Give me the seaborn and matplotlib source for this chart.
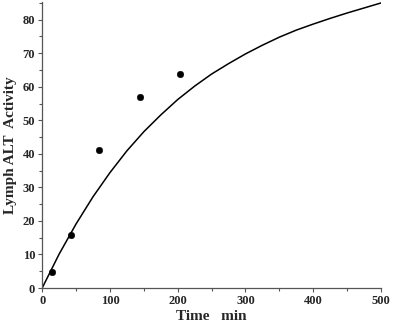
import matplotlib.pyplot as plt
import seaborn as sns
import pandas as pd
from matplotlib.ticker import MultipleLocator

# measured points
time_pts = [15, 42, 84, 144, 204]
alt_pts = [4.9, 15.8, 41.1, 57.0, 63.9]

# fitted curve
curve_t = [0, 25, 50, 75, 100, 125, 150, 175, 200, 225, 250, 275, 300,
           325, 350, 375, 400, 425, 450, 475, 500]
curve_y = [0, 10.1, 19.1, 27.2, 34.4, 40.9, 46.6, 51.6, 56.2, 60.2, 63.8,
           66.9, 69.8, 72.4, 74.8, 76.9, 78.7, 80.4, 82.0, 83.5, 85.0]

pts = pd.DataFrame({'t': time_pts, 'y': alt_pts})
curve = pd.DataFrame({'t': curve_t, 'y': curve_y})

sns.set_style('ticks')
plt.rcParams['font.family'] = ['Liberation Serif', 'DejaVu Serif']

fig = plt.figure(figsize=(3.94, 3.24), dpi=100)
ax = fig.add_axes([0.107, 0.111, 0.86, 0.883])

sns.lineplot(x='t', y='y', data=curve, color='black', lw=1.1, ax=ax)
sns.scatterplot(x='t', y='y', data=pts, color='black', s=22, edgecolor='black', ax=ax, zorder=3)

ax.set_xlim(0, 500)
ax.set_ylim(0, 85.3)
ax.xaxis.set_major_locator(MultipleLocator(100))
ax.xaxis.set_minor_locator(MultipleLocator(50))
ax.yaxis.set_major_locator(MultipleLocator(10))
ax.yaxis.set_minor_locator(MultipleLocator(5))
ax.tick_params(axis='both', which='major', length=3, width=0.8, labelsize=9, pad=2, color='#555555')
ax.tick_params(axis='both', which='minor', length=2, width=0.8, color='#555555')
for lab in ax.get_xticklabels() + ax.get_yticklabels():
    lab.set_fontweight('bold')

sns.despine(ax=ax)
for s in ['left', 'bottom']:
    ax.spines[s].set_color('#555555')
    ax.spines[s].set_linewidth(0.9)

ax.set_xlabel('Time   min', fontsize=11, fontweight='bold', labelpad=2)
ax.set_ylabel('Lymph ALT  Activity', fontsize=11, fontweight='bold', labelpad=4)

plt.savefig('out.png', dpi=100)
